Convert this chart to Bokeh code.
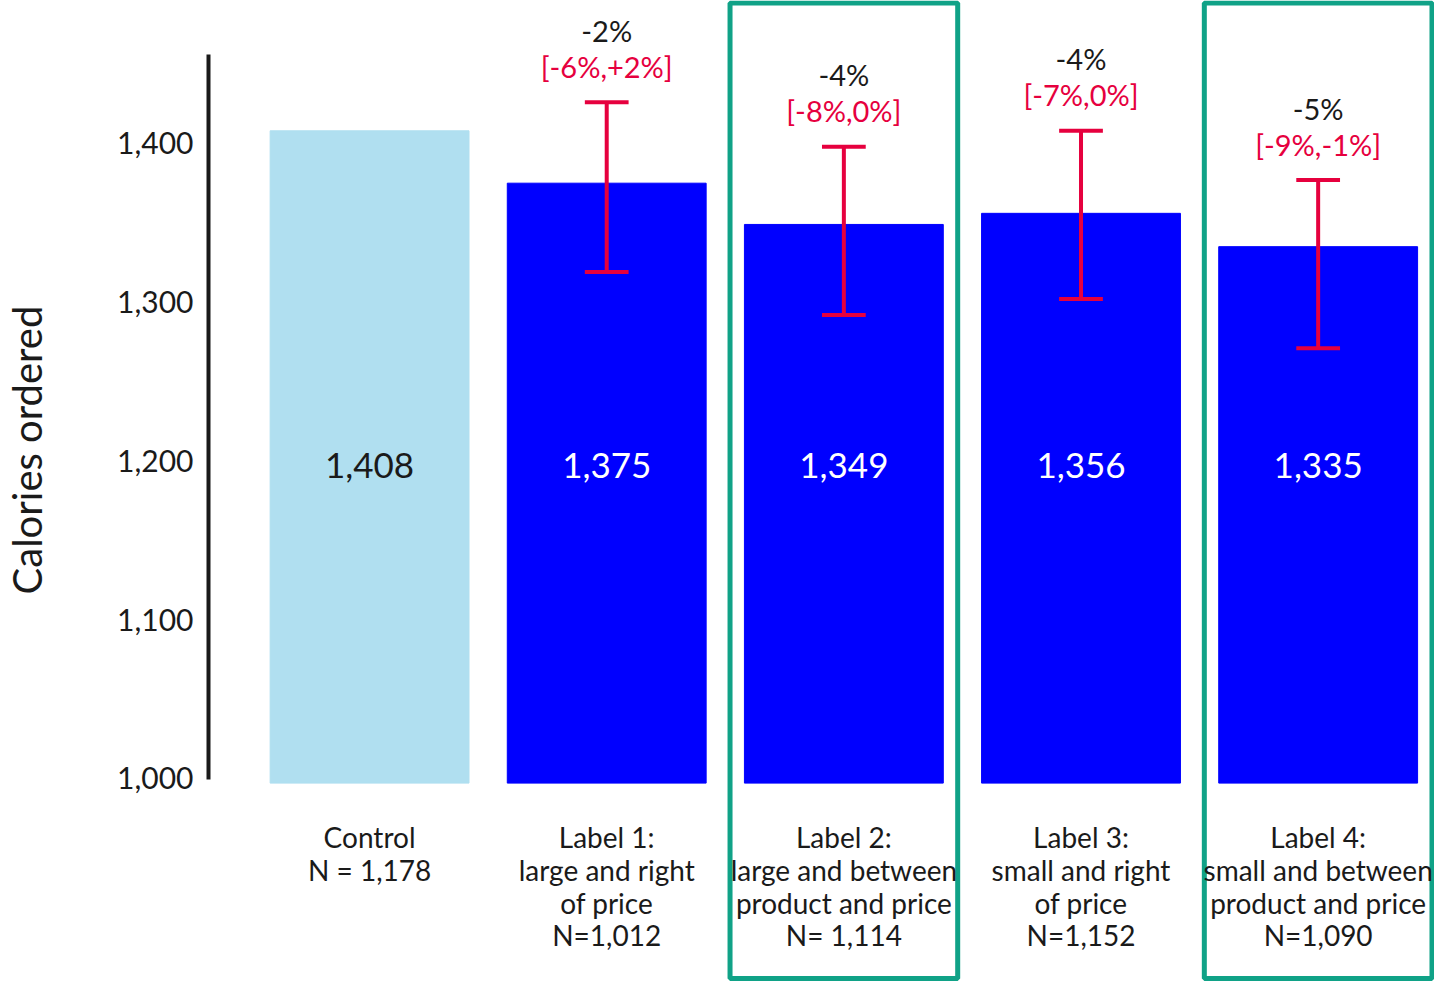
from bokeh.plotting import figure
from bokeh.models import ColumnDataSource, Range1d, FixedTicker, NumeralTickFormatter
from bokeh.core.properties import value
from bokeh.embed import file_html
from bokeh.resources import INLINE

# ---- data ----
categories = ["Control\nN = 1,178",
              "Label 1:\nlarge and right\nof price\nN=1,012",
              "Label 2:\nlarge and between\nproduct and price\nN= 1,114",
              "Label 3:\nsmall and right\nof price\nN=1,152",
              "Label 4:\nsmall and between\nproduct and price\nN=1,090"]
calories = [1408, 1375, 1349, 1356, 1335]
value_labels = ["1,408", "1,375", "1,349", "1,356", "1,335"]
is_control = [True, False, False, False, False]
highlight = [False, False, True, False, True]

# treatment groups: confidence intervals (calories) and relative change labels
ci_low = [1319, 1292, 1302, 1271]
ci_high = [1426, 1398, 1408, 1377]
pct_change = ["-2%", "-4%", "-4%", "-5%"]
pct_ci = ["[-6%,+2%]", "[-8%,0%]", "[-7%,0%]", "[-9%,-1%]"]
y_ticks = [1000, 1100, 1200, 1300, 1400]

FONT = "Lato"
TEXT = "#1a1a1a"
RED = "#e6003e"
TEAL = "#10a287"
LIGHT = "#b0dff0"
BLUE = "#0000ff"

W, H = 1434, 981
LEFT = 201
y_lo, y_hi = 872.0, 1490.1
x_lo, x_hi = -0.6792, 4.4906

p = figure(width=W, height=H, output_backend="svg", toolbar_location=None,
           x_range=Range1d(x_lo, x_hi), y_range=Range1d(y_lo, y_hi),
           x_axis_type=None, min_border_left=LEFT, min_border_right=0,
           min_border_top=0, min_border_bottom=0)
p.outline_line_color = None
p.grid.visible = False
p.background_fill_color = "white"
p.border_fill_color = "white"

xs = list(range(len(calories)))
px_per_y = H / (y_hi - y_lo)
px_per_x = (W - LEFT) / (x_hi - x_lo)

# highlight boxes
hx = [x for x, h in zip(xs, highlight) if h]
half = 0.48
p.quad(left=[x - half for x in hx], right=[x + half for x in hx],
       bottom=[y_lo + 3 / px_per_y] * len(hx), top=[y_hi - 2.5 / px_per_y] * len(hx),
       fill_color=None, line_color=TEAL, line_width=5)

# bars
base = 997
src = ColumnDataSource(dict(
    x=xs, top=calories, label=value_labels,
    color=[LIGHT if c else BLUE for c in is_control],
    tcolor=[TEXT if c else "white" for c in is_control],
    cat=categories))
p.vbar(x="x", top="top", bottom=base, width=200 / px_per_x, color="color", source=src)

# value labels inside bars
p.text(x="x", y=1197, text="label", source=src, text_color="tcolor",
       text_font=value(FONT), text_font_size="35px", text_align="center",
       text_baseline="middle")

# category labels below
p.text(x="x", y=1000, text="cat", source=src, text_color=TEXT,
       text_font=value(FONT), text_font_size="28px", text_align="center",
       text_baseline="top", y_offset=42, text_line_height=0.96)

# error bars
ex = xs[1:]
cap = 22 / px_per_x
p.segment(x0=ex, x1=ex, y0=ci_low, y1=ci_high, line_color=RED, line_width=4)
p.segment(x0=[x - cap for x in ex], x1=[x + cap for x in ex], y0=ci_high, y1=ci_high,
          line_color=RED, line_width=4)
p.segment(x0=[x - cap for x in ex], x1=[x + cap for x in ex], y0=ci_low, y1=ci_low,
          line_color=RED, line_width=4)

# change labels
p.text(x=ex, y=ci_high, text=pct_ci, text_color=RED, text_font=value(FONT),
       text_font_size="29px", text_align="center", text_baseline="middle", y_offset=-36)
p.text(x=ex, y=ci_high, text=pct_change, text_color=TEXT, text_font=value(FONT),
       text_font_size="29px", text_align="center", text_baseline="middle", y_offset=-72)

# y axis
ax = p.yaxis[0]
ax.ticker = FixedTicker(ticks=y_ticks)
ax.formatter = NumeralTickFormatter(format="0,0")
ax.bounds = (999.5, 1456)
ax.axis_line_width = 4
ax.axis_line_color = "#1a1a1a"
ax.major_tick_line_color = None
ax.minor_tick_line_color = None
ax.major_label_standoff = 9
ax.major_label_text_font = FONT
ax.major_label_text_font_size = "30px"
ax.major_label_text_color = TEXT
ax.axis_label = "\u00a0" * 8 + "Calories ordered"
ax.axis_label_text_font = FONT
ax.axis_label_text_font_size = "40px"
ax.axis_label_text_font_style = "normal"
ax.axis_label_text_color = TEXT
ax.axis_label_standoff = 63

open("out.html", "w").write(file_html(p, INLINE))
